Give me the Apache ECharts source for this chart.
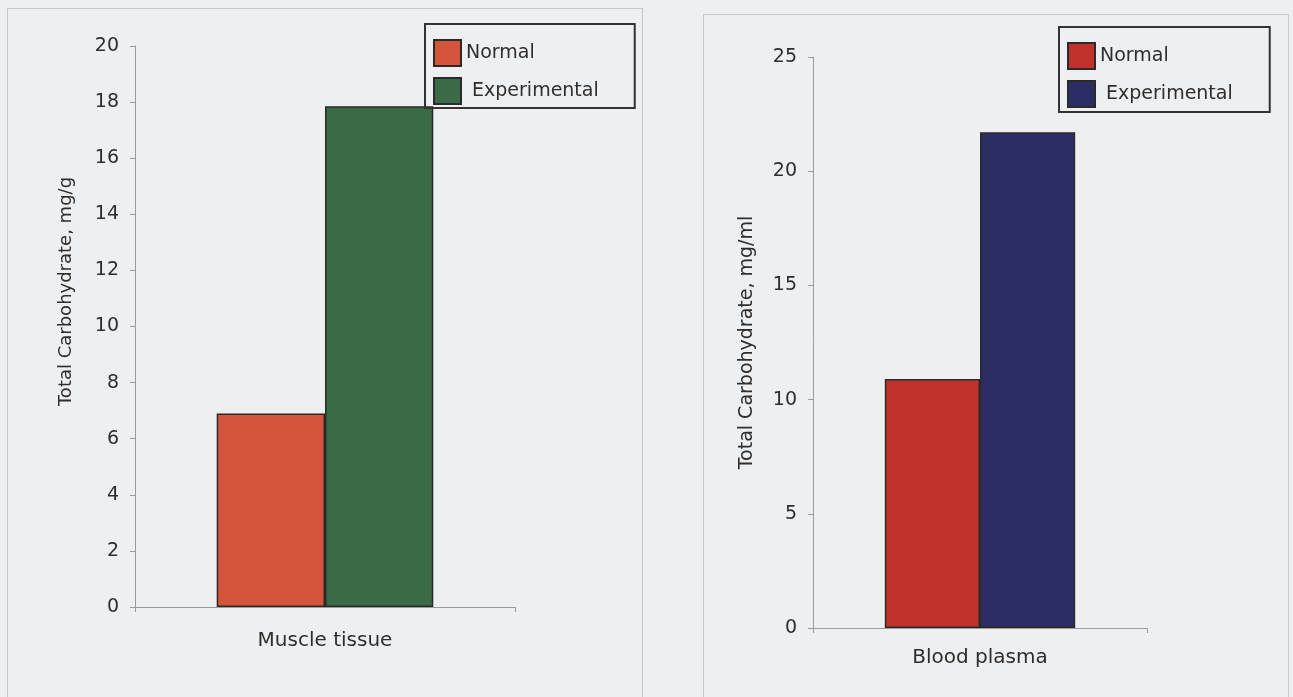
<!DOCTYPE html>
<html>
<head>
<meta charset="utf-8">
<script src="https://cdn.jsdelivr.net/npm/echarts@6/dist/echarts.min.js"></script>
<style>
  html, body {
    margin: 0;
    padding: 0;
    width: 1293px;
    height: 697px;
    overflow: hidden;
    background: #eeeff1;
  }
  .frame {
    position: absolute;
    border: 1.5px solid #c6c7c9;
    box-sizing: border-box;
  }
  .chart {
    position: absolute;
    top: 0;
    height: 697px;
  }
</style>
</head>
<body>
  <div class="frame" style="left:7px; top:8px; width:636px; height:700px;"></div>
  <div class="frame" style="left:703px; top:14px; width:586px; height:700px;"></div>
  <div id="muscleChart" class="chart" style="left:0; width:660px;"></div>
  <div id="plasmaChart" class="chart" style="left:660px; width:633px;"></div>

<script>
// series names
const groups = ['Normal', 'Experimental']

// muscle tissue panel
const muscleCategories = ['Muscle tissue']
const muscleNormal = [6.9]
const muscleExperimental = [17.85]
const muscleTicks = { min: 0, max: 20, interval: 2 }

// blood plasma panel
const plasmaCategories = ['Blood plasma']
const plasmaNormal = [10.9]
const plasmaExperimental = [21.7]
const plasmaTicks = { min: 0, max: 25, interval: 5 }

const FONT = 'DejaVu Sans'
const TEXT = '#2e2e2e'
const AXIS = '#9a9a9a'

const buildOption = (cfg) => ({
  backgroundColor: 'transparent',
  animation: false,
  textStyle: { fontFamily: FONT },
  legend: {
    orient: 'vertical',
    left: cfg.legendLeft,
    top: cfg.legendTop,
    data: groups,
    icon: 'rect',
    itemWidth: 27,
    itemHeight: 26,
    itemGap: 10,
    padding: cfg.legendPadding,
    borderColor: '#333',
    borderWidth: 2,
    formatter: (name) => name === 'Experimental' ? ' ' + name : name,
    textStyle: { fontFamily: FONT, fontSize: 19, color: TEXT }
  },
  grid: cfg.grid,
  xAxis: {
    type: 'category',
    data: cfg.categories,
    axisLine: { lineStyle: { color: AXIS, width: 1 } },
    axisTick: { show: true, length: 5, lineStyle: { color: AXIS } },
    axisLabel: { fontFamily: FONT, fontSize: 20, color: TEXT, margin: cfg.xLabelMargin }
  },
  yAxis: {
    type: 'value',
    min: cfg.ticks.min,
    max: cfg.ticks.max,
    interval: cfg.ticks.interval,
    name: cfg.yName,
    nameLocation: 'middle',
    nameGap: cfg.nameGap,
    nameTextStyle: {
      fontFamily: FONT,
      fontSize: cfg.nameSize,
      color: TEXT,
      padding: cfg.namePadding
    },
    splitLine: { show: false },
    axisLine: { show: true, lineStyle: { color: AXIS, width: 1 } },
    axisTick: { show: true, length: 5, lineStyle: { color: AXIS } },
    axisLabel: { fontFamily: FONT, fontSize: 19, color: TEXT, margin: 16 }
  },
  series: [
    {
      name: 'Normal',
      type: 'bar',
      data: cfg.normal,
      barGap: 0,
      barCategoryGap: '43%',
      itemStyle: { color: cfg.colors[0], borderColor: '#2a2a2a', borderWidth: 1.5 }
    },
    {
      name: 'Experimental',
      type: 'bar',
      data: cfg.experimental,
      barGap: 0,
      barCategoryGap: '43%',
      itemStyle: { color: cfg.colors[1], borderColor: '#2a2a2a', borderWidth: 1.5 }
    }
  ]
})

const muscleChart = echarts.init(document.getElementById('muscleChart'))
muscleChart.setOption(buildOption({
  categories: muscleCategories,
  normal: muscleNormal,
  experimental: muscleExperimental,
  ticks: muscleTicks,
  colors: ['#d4553a', '#3b6a47'],
  grid: { left: 135, top: 46, width: 380, height: 561 },
  legendLeft: 425,
  legendTop: 24,
  legendPadding: [15, 36, 3, 8],
  yName: 'Total Carbohydrate, mg/g',
  nameGap: 60,
  nameSize: 18,
  namePadding: [0, 0, 0, 70],
  xLabelMargin: 24
}))

const plasmaChart = echarts.init(document.getElementById('plasmaChart'))
plasmaChart.setOption(buildOption({
  categories: plasmaCategories,
  normal: plasmaNormal,
  experimental: plasmaExperimental,
  ticks: plasmaTicks,
  colors: ['#c0322c', '#2b2d63'],
  grid: { left: 153, top: 57, width: 334, height: 571 },
  legendLeft: 399,
  legendTop: 27,
  legendPadding: [15, 37, 4, 8],
  yName: 'Total Carbohydrate, mg/ml',
  nameGap: 56,
  nameSize: 19,
  namePadding: [0, 0, 0, 0],
  xLabelMargin: 20
}))
</script>
</body>
</html>
